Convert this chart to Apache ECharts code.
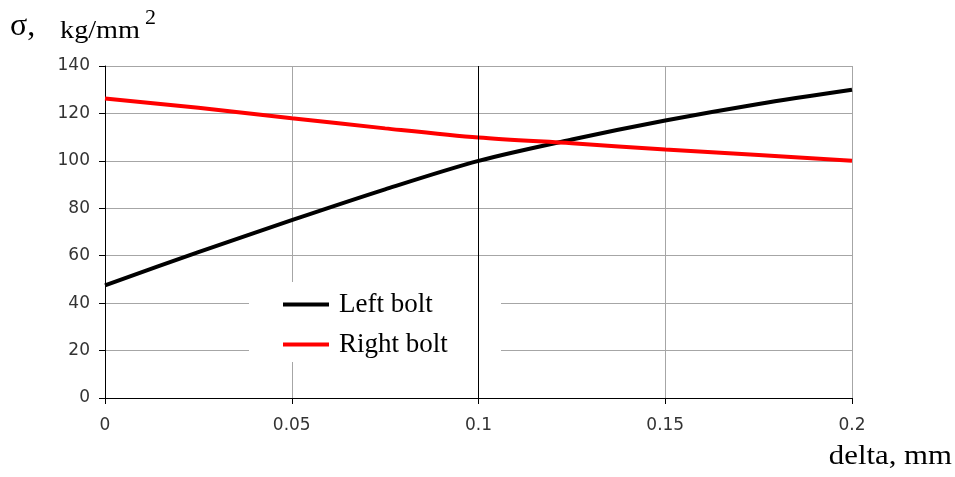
<!DOCTYPE html>
<html>
<head>
<meta charset="utf-8">
<script src="https://cdn.jsdelivr.net/npm/echarts@6/dist/echarts.min.js"></script>
<style>html,body{margin:0;padding:0;background:#fff}#c{width:955px;height:477px}</style>
</head>
<body>
<div id="c"></div>
<script>
const deltaValues = [0, 0.025, 0.05, 0.075, 0.1, 0.125, 0.15, 0.175, 0.2];
const leftBolt = [47.5, 61.5, 75, 88, 100, 109, 117, 124, 130];
const rightBolt = [126.3, 122.4, 118, 113.7, 109.8, 107.4, 104.8, 102.5, 100];
const seriesNames = ['Left bolt', 'Right bolt'];
const yTicks = { min: 0, max: 140, interval: 20 };
const xTicks = { min: 0, max: 0.2, interval: 0.05 };

const chart = echarts.init(document.getElementById('c'), null, { renderer: 'canvas' });
const pair = (xs, ys) => xs.map((x, i) => [x, ys[i]]);
const serif = '"Liberation Serif", "Times New Roman", serif';
const sans = '"DejaVu Sans", Verdana, sans-serif';

chart.setOption({
  animation: false,
  backgroundColor: '#fff',
  grid: { left: 105, top: 66, width: 747, height: 332 },
  xAxis: {
    type: 'value', min: xTicks.min, max: xTicks.max, interval: xTicks.interval,
    axisLine: { show: true, onZero: false, lineStyle: { color: '#000', width: 1 } },
    axisTick: { show: true, length: 6, inside: false, lineStyle: { color: '#000' } },
    axisLabel: { color: '#333', fontFamily: sans, fontSize: 17, margin: 19 },
    splitLine: { show: true, lineStyle: { color: '#a6a6a6', width: 1 } }
  },
  yAxis: {
    type: 'value', min: yTicks.min, max: yTicks.max, interval: yTicks.interval,
    axisLine: { show: true, lineStyle: { color: '#000', width: 1 } },
    axisTick: { show: true, length: 6, inside: false, lineStyle: { color: '#000' } },
    axisLabel: { color: '#333', fontFamily: sans, fontSize: 17, margin: 15 },
    splitLine: { show: true, lineStyle: { color: '#a6a6a6', width: 1 } }
  },
  legend: {
    orient: 'vertical', left: 278, top: 286, itemGap: 13,
    itemWidth: 46, itemHeight: 4, icon: 'rect',
    data: seriesNames,
    textStyle: { fontFamily: serif, fontSize: 27, color: '#000', lineHeight: 27, padding: [0, 0, 0, 5] }
  },
  graphic: [
    { type: 'rect', z: 1, shape: { x: 249, y: 282, width: 252, height: 80 }, style: { fill: '#fff' } },
    { type: 'text', z: 5, style: { text: 'σ,', x: 10, y: 27, font: '32px ' + serif, fill: '#000', textVerticalAlign: 'middle' } },
    { type: 'text', z: 5, x: 60, y: 31, scaleX: 1.13, style: { text: 'kg/mm', x: 0, y: 0, font: '25px ' + serif, fill: '#000', textVerticalAlign: 'middle' } },
    { type: 'text', z: 5, style: { text: '2', x: 145, y: 18, font: '22px ' + serif, fill: '#000', textVerticalAlign: 'middle' } },
    { type: 'text', z: 5, x: 952, y: 457, scaleX: 1.1, style: { text: 'delta, mm', x: 0, y: 0, font: '28px ' + serif, fill: '#000', textAlign: 'right', textVerticalAlign: 'middle' } }
  ],
  series: [
    {
      name: seriesNames[0], type: 'line', data: pair(deltaValues, leftBolt),
      smooth: 0.3, showSymbol: false, symbol: 'none',
      lineStyle: { color: '#000', width: 4 }, itemStyle: { color: '#000' },
      markLine: {
        silent: true, symbol: 'none', label: { show: false },
        lineStyle: { color: '#000', width: 1, type: 'solid' },
        data: [{ xAxis: 0.1 }]
      }
    },
    {
      name: seriesNames[1], type: 'line', data: pair(deltaValues, rightBolt),
      smooth: 0.3, showSymbol: false, symbol: 'none',
      lineStyle: { color: '#ff0000', width: 4 }, itemStyle: { color: '#ff0000' }
    }
  ]
});
</script>
</body>
</html>
